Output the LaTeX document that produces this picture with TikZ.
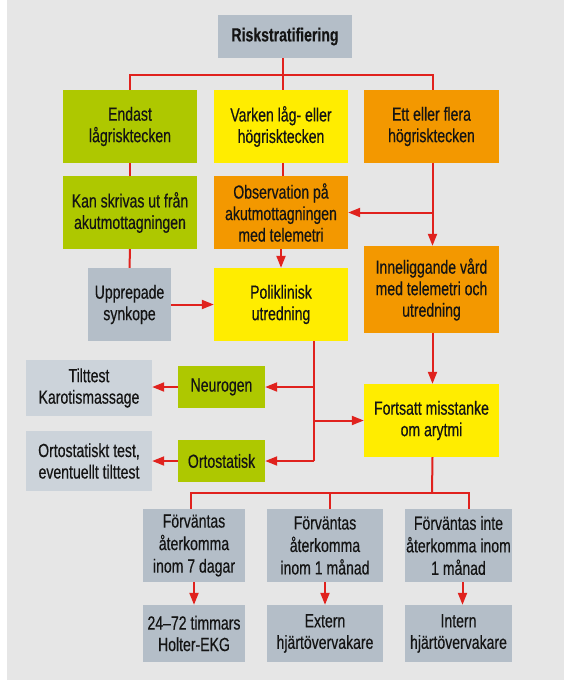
\documentclass[tikz,border=0pt]{standalone}
\usepackage{fontspec}
\setmainfont[FakeStretch=0.74,FakeBold=0.4]{Liberation Sans}
\usepackage{xcolor}
\definecolor{panel}{RGB}{230,230,230}
\definecolor{slate}{RGB}{180,190,200}
\definecolor{pale}{RGB}{204,211,218}
\definecolor{lowrisk}{RGB}{174,200,0}
\definecolor{midrisk}{RGB}{255,237,0}
\definecolor{highrisk}{RGB}{243,152,0}
\definecolor{wire}{RGB}{224,34,30}
\usetikzlibrary{arrows.meta,positioning,calc}
\tikzset{
  box/.style={inner sep=0pt,align=center,text=black!92,%
    font=\fontsize{19}{21.5}\selectfont},
  lowbox/.style={box,fill=lowrisk},
  midbox/.style={box,fill=midrisk},
  highbox/.style={box,fill=highrisk},
  slatebox/.style={box,fill=slate},
  palebox/.style={box,fill=pale},
  link/.style={draw=wire,line width=2pt},
  flow/.style={link,-{Triangle[length=12pt,width=9pt]}},
}

\begin{document}
\begin{tikzpicture}[x=1pt,y=-1pt]
\useasboundingbox (0,0) rectangle (564,681);
\fill[panel] (7,0) rectangle (564,680);

\node[slatebox,minimum width=134,minimum height=43,font=\fontsize{19}{21.5}\selectfont\bfseries] (risk) at (285,36.5) {Riskstratifiering};
\node[lowbox,minimum width=134,minimum height=73]  (low)  at (130,126.5) {Endast\\lågrisktecken};
\node[midbox,minimum width=134,minimum height=73]  (mid)  at (281,126.5) {Varken låg- eller\\högrisktecken};
\node[highbox,minimum width=135,minimum height=73] (high) at (431.5,126.5) {Ett eller flera\\högrisktecken};
\node[lowbox,minimum width=134,minimum height=73]  (home) at (130,212.5) {Kan skrivas ut från\\akutmottagningen};
\node[highbox,minimum width=134,minimum height=73] (obs)  at (281,212.5) {Observation på\\akutmottagningen\\med telemetri};
\node[highbox,minimum width=135,minimum height=87] (ward) at (431.5,289.5) {Inneliggande vård\\med telemetri och\\utredning};
\node[slatebox,minimum width=83,minimum height=73] (rep)  at (129.5,304.5) {Upprepade\\synkope};
\node[midbox,minimum width=134,minimum height=73]  (poli) at (281,304.5) {Poliklinisk\\utredning};
\node[lowbox,minimum width=87,minimum height=42]   (neuro) at (221.5,387) {Neurogen};
\node[palebox,minimum width=126,minimum height=56] (tilt)  at (89,388) {Tilttest\\Karotismassage};
\node[lowbox,minimum width=87,minimum height=42]   (orto)  at (221.5,461) {Ortostatisk};
\node[palebox,minimum width=126,minimum height=60] (ortotest) at (89,461) {Ortostatiskt test,\\eventuellt tilttest};
\node[midbox,minimum width=135,minimum height=73]  (arytmi) at (431.5,420.5) {Fortsatt misstanke\\om arytmi};
\node[slatebox,minimum width=102,minimum height=73,font=\fontsize{19}{22.5}\selectfont] (week)  at (194,545.5) {Förväntas\\återkomma\\inom 7 dagar};
\node[slatebox,minimum width=116,minimum height=73,font=\fontsize{19}{22.5}\selectfont] (month) at (325,545.5) {Förväntas\\återkomma\\inom 1 månad};
\node[slatebox,minimum width=107,minimum height=73,font=\fontsize{19}{22.5}\selectfont] (rare)  at (458.5,545.5) {Förväntas inte\\återkomma inom\\1 månad};
\node[slatebox,minimum width=102,minimum height=57] (holter) at (194,633.5) {24–72 timmars\\Holter-EKG};
\node[slatebox,minimum width=116,minimum height=57] (ext)    at (325,633.5) {Extern\\hjärtövervakare};
\node[slatebox,minimum width=107,minimum height=57] (int)    at (458.5,633.5) {Intern\\hjärtövervakare};

\coordinate (tbus) at (283,75);
\coordinate (pd) at (314,341);
\coordinate (bbus) at (432,493);
\coordinate (bl) at (191,493);
\coordinate (br) at (469,493);
\coordinate (bm) at (330,493);

\draw[link] (risk.south -| tbus) -- (tbus);
\draw[link] (low.north) |- (tbus) -| ([xshift=1pt]high.north);
\draw[link] (tbus) -- (tbus |- mid.north);
\draw[link] (low) -- (home);
\draw[link] (mid.south -| tbus) -- (tbus |- obs.north);
\draw[flow] ([xshift=1pt]high.south) -- ([xshift=1pt]ward.north);
\draw[flow] ([xshift=1pt]high.south |- obs.east) -- (obs.east);
\draw[link] (home) -- (rep);
\draw[flow] (rep.east) -- (poli.west);
\draw[flow] (obs) -- (poli);
\draw[link] (pd) -- (pd |- orto.east);
\draw[flow] (pd |- neuro.east) -- (neuro.east);
\draw[flow] (pd |- orto.east) -- (orto.east);
\draw[flow] (pd |- arytmi.west) -- (arytmi.west);
\draw[flow] (neuro.west) -- (neuro.west -| tilt.east);
\draw[flow] (orto.west) -- (ortotest.east);
\draw[flow] ([xshift=1pt]ward.south) -- ([xshift=1pt]arytmi.north);
\draw[link] ([xshift=1pt]arytmi.south) -- (bbus);
\draw[link] (bl |- week.north) -- (bl) -- (br) -- (br |- rare.north);
\draw[link] (bm) -- (bm |- month.north);
\draw[flow] (week) -- (holter);
\draw[flow] (month) -- (ext);
\draw[flow] ([xshift=4pt]rare.south) -- ([xshift=4pt]int.north);
\end{tikzpicture}
\end{document}
